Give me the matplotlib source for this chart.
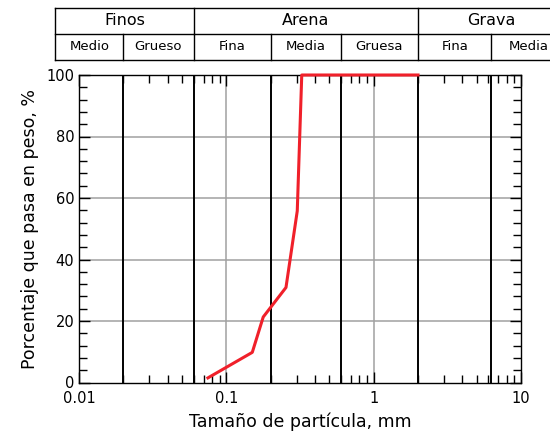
import matplotlib
matplotlib.use("Agg")
import matplotlib.pyplot as plt
import matplotlib.transforms as mtransforms
from matplotlib.ticker import FixedLocator, NullFormatter, LogLocator
import numpy as np

plt.rcParams['font.family'] = ['DejaVu Sans']

# Data
size_mm = [0.075, 0.15, 0.178, 0.254, 0.303, 0.325, 2.0]
pct_pass = [1.5, 9.8, 21.3, 30.9, 55.8, 100, 100]

boundaries = [0.02, 0.06, 0.2, 0.6, 2.0, 6.3]
top_groups = ["Finos", "Arena", "Grava"]
top_edges = [0.0069, 0.06, 2.0, 20.0]
sub_groups = ["Medio", "Grueso", "Fina", "Media", "Gruesa", "Fina", "Media"]
sub_edges = [0.0069, 0.02, 0.06, 0.2, 0.6, 2.0, 6.3, 20.0]

xtick_vals = [0.01, 0.1, 1, 10]
xtick_labels = ["0.01", "0.1", "1", "10"]
ytick_vals = [0, 20, 40, 60, 80, 100]

fig = plt.figure(figsize=(5.5, 4.38), dpi=100)
ax = fig.add_axes([79/550, 1-382.5/438, 442/550, 307.5/438])
ax.set_xscale('log')
ax.set_xlim(0.01, 10)
ax.set_ylim(0, 100)

# grid
for v in [0.1, 1]:
    ax.axvline(v, color='#a0a0a0', lw=1.1, zorder=1)
for v in [20, 40, 60, 80]:
    ax.axhline(v, color='#a0a0a0', lw=1.1, zorder=1)
for b in boundaries:
    ax.axvline(b, color='black', lw=1.4, zorder=2)

ax.plot(size_mm, pct_pass, color='#f0202a', lw=2.2, zorder=3, clip_on=False)

ax.set_xticks(xtick_vals)
ax.set_xticklabels(xtick_labels)
ax.xaxis.set_minor_locator(LogLocator(base=10, subs=range(2, 10)))
ax.xaxis.set_minor_formatter(NullFormatter())
ax.set_yticks(ytick_vals)
ax.yaxis.set_minor_locator(FixedLocator([v for v in range(0, 101, 4) if v % 20 != 0]))
ax.tick_params(which='both', direction='in', top=True, right=True, labelsize=10.5, width=1)
ax.tick_params(which='major', length=8)
ax.tick_params(which='minor', length=5.5)
ax.tick_params(axis='x', which='major', pad=6)
for s in ax.spines.values():
    s.set_linewidth(1)

ax.set_xlabel("Tamaño de partícula, mm", fontsize=12.5, labelpad=5)
ax.set_ylabel("Porcentaje que pasa en peso, %", fontsize=12.5, labelpad=5)

# Classification table above the plot
trans = mtransforms.blended_transform_factory(ax.transData, fig.transFigure)
y_top = 1 - 8.3/438
y_mid = 1 - 33.5/438
y_bot = 1 - 59.5/438
xl, xr = sub_edges[0], sub_edges[-1]
for yy in [y_top, y_mid, y_bot]:
    fig.add_artist(plt.Line2D([xl, xr], [yy, yy], transform=trans, color='black', lw=1))
fig.add_artist(plt.Line2D([xl, xl], [y_bot, y_top], transform=trans, color='black', lw=1))
for e in top_edges[1:-1]:
    fig.add_artist(plt.Line2D([e, e], [y_mid, y_top], transform=trans, color='black', lw=1))
for e in sub_edges[1:-1]:
    fig.add_artist(plt.Line2D([e, e], [y_bot, y_mid], transform=trans, color='black', lw=1))

for i, name in enumerate(top_groups):
    xc = 10 ** ((np.log10(top_edges[i]) + np.log10(top_edges[i+1])) / 2)
    fig.text(xc, (y_top + y_mid) / 2, name, transform=trans, ha='center', va='center', fontsize=11.5)
for i, name in enumerate(sub_groups):
    xc = 10 ** ((np.log10(sub_edges[i]) + np.log10(sub_edges[i+1])) / 2)
    fig.text(xc, (y_mid + y_bot) / 2, name, transform=trans, ha='center', va='center', fontsize=9.5)

fig.savefig("out.png", dpi=100)
